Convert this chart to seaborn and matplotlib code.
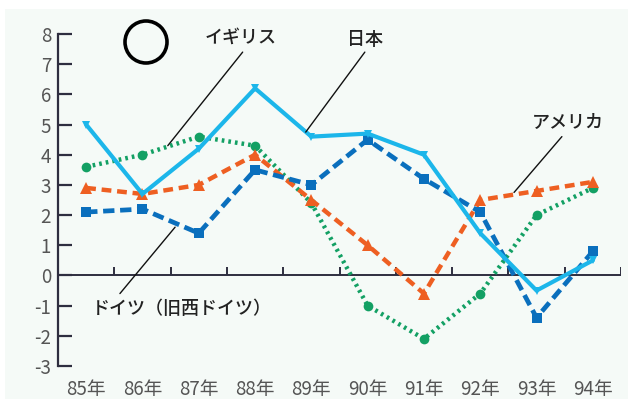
import matplotlib
matplotlib.use("Agg")
import matplotlib.pyplot as plt
import seaborn as sns
import pandas as pd
from matplotlib.patches import Ellipse, Rectangle

years = ["85年", "86年", "87年", "88年", "89年", "90年", "91年", "92年", "93年", "94年"]
japan = [5.0, 2.7, 4.2, 6.2, 4.6, 4.7, 4.0, 1.4, -0.5, 0.5]
germany = [2.1, 2.2, 1.4, 3.5, 3.0, 4.5, 3.2, 2.1, -1.4, 0.8]
usa = [2.9, 2.7, 3.0, 4.0, 2.5, 1.0, -0.6, 2.5, 2.8, 3.1]
uk = [3.6, 4.0, 4.6, 4.3, 2.4, -1.0, -2.1, -0.6, 2.0, 2.9]
y_ticks = [-3, -2, -1, 0, 1, 2, 3, 4, 5, 6, 7, 8]

sns.set_theme(style="white")
plt.rcParams["font.family"] = ["Noto Sans CJK JP", "DejaVu Sans"]

bg = "#f5faf7"
fig = plt.figure(figsize=(6.28, 3.99), dpi=100, facecolor=bg)
# white margins along the top and the left edge
fig.patches.append(Rectangle((0, 1 - 9 / 399), 1, 9 / 399, transform=fig.transFigure,
                             facecolor="white", edgecolor="none", zorder=0))
fig.patches.append(Rectangle((0, 0), 5 / 628, 1, transform=fig.transFigure,
                             facecolor="white", edgecolor="none", zorder=0))
ax = fig.add_axes([58 / 628, 1 - 366 / 399, (621 - 58) / 628, (366 - 34) / 399])
ax.set_facecolor(bg)

pos = [i + 0.5 for i in range(len(years))]
df = pd.DataFrame({"x": pos, "日本": japan, "ドイツ": germany, "アメリカ": usa, "イギリス": uk})

sns.lineplot(data=df, x="x", y="イギリス", ax=ax, color="#13a064", lw=3.2,
             linestyle=(0, (0.6, 0.9)), marker="o", markersize=7, markeredgewidth=0, zorder=3)
sns.lineplot(data=df, x="x", y="アメリカ", ax=ax, color="#ee5f22", lw=3.2,
             linestyle=(0, (2.2, 1.3)), marker="^", markersize=8, markeredgewidth=0, zorder=4)
sns.lineplot(data=df, x="x", y="ドイツ", ax=ax, color="#0a6fbd", lw=3.4,
             linestyle=(0, (2.4, 1.2)), marker="s", markersize=7, markeredgewidth=0, zorder=5)
sns.lineplot(data=df, x="x", y="日本", ax=ax, color="#1cb6ea", lw=3.0,
             linestyle="-", marker="v", markersize=6, markeredgewidth=0, zorder=6)

ax.set_xlim(0, 10)
ax.set_ylim(-3, 8)
ax.set_xlabel("")
ax.set_ylabel("")
ax.set_xticks(pos)
ax.set_xticklabels(years)
ax.set_yticks(y_ticks)
ax.set_yticklabels([str(v) for v in y_ticks])

for side in ["top", "right", "bottom"]:
    ax.spines[side].set_visible(False)
ax.spines["left"].set_color("#2e2e40")
ax.spines["left"].set_linewidth(1.6)
ax.tick_params(axis="y", direction="in", length=10, width=1.6, color="#2e2e40",
               labelsize=13.5, labelcolor="#555555", pad=5, left=True)
ax.tick_params(axis="x", length=0, labelsize=13.5, labelcolor="#555555", pad=9)

# zero line with its small upward ticks
ax.axhline(0, color="#2e2e40", lw=1.4, zorder=2)
ax.vlines(range(1, 11), 0, 0.27, color="#2e2e40", lw=1.4, zorder=2)

# series labels with leader lines
ann = dict(fontsize=13, color="#222222", ha="center", va="center", fontweight="medium")


def label(text, tx, ty, x0, y0, x1, y1):
    ax.text(tx, ty, text, **ann)
    ax.plot([x0, x1], [y0, y1], color="#111111", lw=1.0, zorder=7)


label("イギリス", 3.25, 7.88, 3.28, 7.4, 1.95, 4.3)
label("日本", 5.45, 7.8, 5.45, 7.4, 4.4, 4.75)
label("アメリカ", 9.05, 5.1, 8.95, 4.6, 8.1, 2.75)
label("ドイツ（旧西ドイツ）", 2.2, -1.1, 2.08, 1.6, 1.1, -0.6)

# hollow circle mark near the top left
fig.patches.append(Ellipse((146 / 628, 1 - 42 / 399), 42 / 628, 42 / 399,
                           transform=fig.transFigure, facecolor="none",
                           edgecolor="black", lw=2.6, zorder=10))

fig.savefig("out.png", dpi=100, facecolor=bg)
